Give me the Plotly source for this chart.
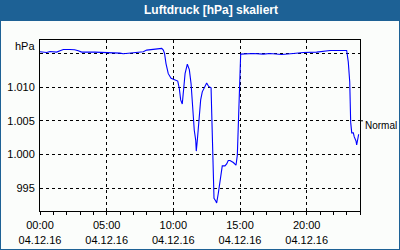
import plotly.graph_objects as go

# time in hours since 04.12.16 00:00
hours = [0.0, 0.5, 0.75, 1.25, 1.5, 1.75, 2.25, 2.6, 2.87, 3.13, 4.1, 5.0, 5.6, 6.0, 6.25, 6.5, 6.75, 7.3,
         7.75, 8.0, 8.25, 8.6, 9.13, 9.25, 9.34, 9.45, 9.62, 9.83, 10.13, 10.33, 10.45, 10.55, 10.67, 10.75,
         10.88, 11.05, 11.2, 11.33, 11.42, 11.5, 11.57, 11.68, 11.72, 11.8, 11.93, 12.05, 12.17, 12.32, 12.5,
         12.65, 12.83, 12.88, 12.95, 13.0, 13.05, 13.18, 13.25, 13.37, 13.5, 13.58, 13.67, 13.87, 14.0, 14.12,
         14.25, 14.5, 14.7, 14.8, 14.87, 14.95, 15.0, 15.05, 16.0, 16.75, 17.25, 18.13, 19.0, 19.75, 20.75,
         21.25, 21.75, 23.0, 23.12, 23.23, 23.25, 23.3, 23.38, 23.5, 23.57, 23.7, 23.75, 23.83, 23.9]
pressure = [1015.25, 1015.15, 1015.3, 1015.2, 1015.4, 1015.6, 1015.6, 1015.55, 1015.4, 1015.2, 1015.2, 1015.15,
            1015.1, 1015.05, 1014.95, 1015.0, 1015.15, 1015.2, 1015.25, 1015.5, 1015.55, 1015.7, 1015.75,
            1015.5, 1015.0, 1013.5, 1012.0, 1011.3, 1011.0, 1010.9, 1009.8, 1008.1, 1007.5, 1009.1, 1012.0,
            1013.4, 1012.6, 1010.5, 1008.1, 1005.3, 1003.6, 1002.1, 1000.5, 1002.1, 1004.8, 1008.1, 1009.3,
            1010.0, 1010.6, 1010.1, 1009.9, 1006.1, 1001.1, 997.4, 993.5, 993.1, 992.8, 994.2, 996.2, 997.4,
            998.3, 998.3, 998.6, 999.1, 999.1, 998.8, 998.4, 999.9, 1004.1, 1011.3, 1014.75, 1014.9, 1015.0,
            1014.9, 1015.0, 1014.85, 1015.0, 1015.15, 1015.2, 1015.3, 1015.45, 1015.45, 1013.75, 1010.8,
            1007.8, 1004.8, 1003.2, 1003.2, 1002.6, 1002.0, 1001.4, 1002.4, 1003.0]

x_tickvals = [0, 5, 10, 15, 20]
x_ticktext = ["00:00<br>04.12.16", "05:00<br>04.12.16", "10:00<br>04.12.16",
              "15:00<br>04.12.16", "20:00<br>04.12.16"]
y_tickvals = [995, 1000, 1005, 1010, 1015]
y_ticktext = ["995", "1.000", "1.005", "1.010", ""]
title_text = "Luftdruck [hPa] skaliert"
unit_text = "hPa"
normal_level = 1005
normal_text = "Normal"

FONT = "Liberation Sans"
BAR = "#1D6195"
BG = "#FBFDFB"

fig = go.Figure()
fig.add_trace(go.Scatter(x=hours, y=pressure, mode="lines",
                         line=dict(color="#0000FF", width=1.1), hoverinfo="skip"))

W, H = 400, 250
L, R, T, B = 40, 40, 40, 39
pw, ph = W - L - R, H - T - B

def px_x(p):
    return (p - L) / pw

def px_y(p):
    return (H - B - p) / ph

fig.update_layout(
    width=W, height=H,
    margin=dict(l=L, r=R, t=T, b=B, autoexpand=False),
    paper_bgcolor=BG, plot_bgcolor=BG,
    showlegend=False,
    font=dict(family=FONT, size=11, color="black"),
    xaxis=dict(range=[0, 24], tickvals=x_tickvals, ticktext=x_ticktext,
               showgrid=True, gridcolor="black", gridwidth=1, griddash="3px,3px",
               showline=True, linecolor="black", linewidth=1, mirror=True,
               ticks="outside", ticklen=3, tickcolor="black", zeroline=False,
               ticklabelstandoff=1, automargin=False,
               minor=dict(dtick=1, ticks="outside", ticklen=3, tickcolor="black", showgrid=False),
               tickfont=dict(family=FONT, size=11), fixedrange=True),
    yaxis=dict(range=[991.6, 1017.0], tickvals=y_tickvals, ticktext=y_ticktext,
               showgrid=True, gridcolor="black", gridwidth=1, griddash="3px,3px",
               showline=True, linecolor="black", linewidth=1, mirror=True,
               ticks="", zeroline=False, ticklabelstandoff=2, automargin=False,
               tickfont=dict(family=FONT, size=11), fixedrange=True),
    shapes=[
        dict(type="rect", xref="paper", yref="paper",
             x0=px_x(0), x1=px_x(W), y0=px_y(0), y1=px_y(21),
             fillcolor=BAR, line=dict(width=0), layer="above"),
        dict(type="rect", xref="paper", yref="paper",
             x0=px_x(0), x1=px_x(W), y0=px_y(H), y1=px_y(0),
             fillcolor="rgba(0,0,0,0)", line=dict(color=BAR, width=2), layer="above"),
        dict(type="line", xref="paper", yref="y",
             x0=1, x1=px_x(363), y0=normal_level, y1=normal_level,
             line=dict(color="black", width=1)),
    ],
    annotations=[
        dict(text="<b>" + title_text + "</b>", xref="paper", yref="paper",
             x=px_x(211), y=px_y(10.5), xanchor="center", yanchor="middle",
             showarrow=False, font=dict(family=FONT, size=12, color="white")),
        dict(text=unit_text, xref="paper", yref="paper",
             x=px_x(36.5), y=px_y(46.5), xanchor="right", yanchor="middle",
             showarrow=False, font=dict(family=FONT, size=11)),
        dict(text=normal_text, xref="paper", yref="paper",
             x=px_x(363), y=px_y(125), xanchor="left", yanchor="middle",
             showarrow=False, font=dict(family=FONT, size=10)),
    ],
)

fig.write_html("out.html", config=dict(displayModeBar=False))
